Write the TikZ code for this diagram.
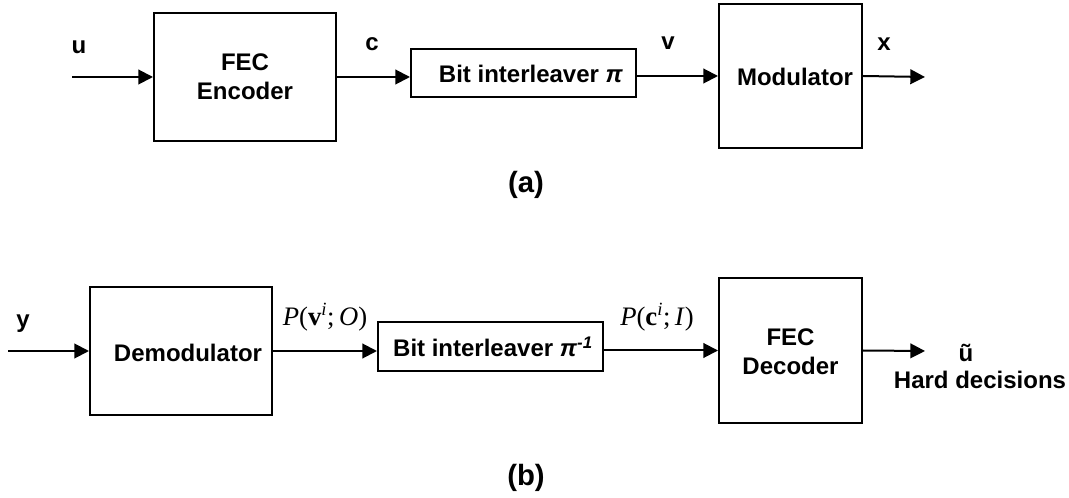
\documentclass[tikz,border=0pt]{standalone}
\usepackage{fontspec}
\setmainfont{Liberation Sans}
\newfontfamily\tms{Liberation Serif}
\usetikzlibrary{arrows.meta}
\begin{document}
\begin{tikzpicture}[x=0.75pt,y=-0.75pt,
  every node/.style={font=\fontsize{18}{21.5}\selectfont\bfseries},
  blk/.style={draw, line width=1.5pt, inner sep=0pt},
  lbl/.style={inner sep=0pt, align=center},
  captxt/.style={inner sep=0pt, font=\fontsize{22}{26}\selectfont\bfseries},
  mathlbl/.style={inner sep=0pt, font=\fontsize{20}{24}\selectfont\tms},
  conn/.style={line width=1.5pt, -{Triangle[length=11pt,width=11pt]}}]
\useasboundingbox (0,0) rectangle (1069,498);
% (a)
\node[blk, minimum width=182*0.75pt, minimum height=128*0.75pt] (enc) at (245,77) {};
\node[lbl] (enct) at (245,77) {FEC\\Encoder};
\node[blk, minimum width=225*0.75pt, minimum height=48*0.75pt] (int1) at (523.5,73) {};
\node[lbl] (int1t) at (531,74) {Bit interleaver \textit{π}};
\node[blk, minimum width=143*0.75pt, minimum height=144*0.75pt] (mod) at (790.5,76) {};
\node[lbl] (modt) at (795,77) {Modulator};
\coordinate (uin) at (72,77);
\coordinate (xout) at (925,77);
\draw[conn] (uin) -- (enc.west);
\draw[conn] (enc.east) -- (enc.east -| int1.west);
\draw[conn] (int1.east |- mod.west) -- (mod.west);
\draw[conn] (mod.east) -- (xout);
\node[lbl] (u) at (79,47) {u};
\node[lbl] (c) at (372,44) {c};
\node[lbl] (v) at (668,43) {v};
\node[lbl] (x) at (884,44) {x};
\node[captxt] (capa) at (526,185) {(a)};
% (b)
\node[blk, minimum width=182*0.75pt, minimum height=128*0.75pt] (dem) at (181,351) {};
\node[lbl] (demt) at (188,353) {Demodulator};
\node[blk, minimum width=225*0.75pt, minimum height=49*0.75pt] (int2) at (490.5,346.5) {};
\node[lbl] (int2t) at (493,347) {Bit interleaver \textit{π}\textsuperscript{\textit{-1}}};
\node[blk, minimum width=143*0.75pt, minimum height=145*0.75pt] (dec) at (790.5,350.5) {};
\node[lbl] (dect) at (790.5,352) {FEC\\Decoder};
\coordinate (yin) at (8,351);
\coordinate (uout) at (925,351);
\draw[conn] (yin) -- (dem.west);
\draw[conn] (dem.east) -- (dem.east -| int2.west);
\draw[conn] (int2.east |- dec.west) -- (dec.west);
\draw[conn] (dec.east) -- (uout);
\node[lbl] (y) at (23,324) {y};
\node[mathlbl] (pv) at (325,317) {\textit{P}(\textbf{v}\textsuperscript{\textit{i}};\,\textit{O})};
\node[mathlbl] (pc) at (657,317) {\textit{P}(\textbf{c}\textsuperscript{\textit{i}};\,\textit{I})};
\node[lbl] (ut) at (966,353) {ũ};
\node[lbl] (hd) at (980,380) {Hard decisions};
\node[captxt] (capb) at (526,478) {(b)};
\end{tikzpicture}
\end{document}
